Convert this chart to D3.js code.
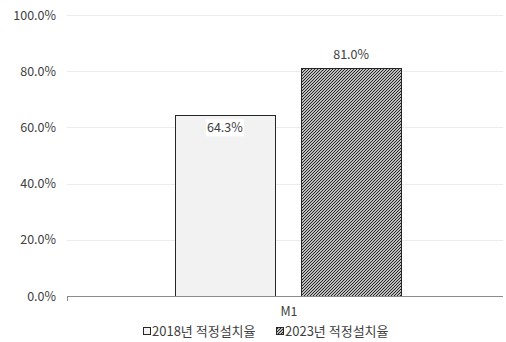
<!DOCTYPE html>
<html><head><meta charset="utf-8">
<script src="https://cdn.jsdelivr.net/npm/d3@7"></script>
<style>body{margin:0;background:#fff}text{font-family:"Noto Sans CJK KR","Noto Sans",sans-serif}</style>
</head><body><svg id="c" width="506" height="342"></svg>
<script>
const categories = ["M1"];
const seriesNames = ["2018년 적정설치율", "2023년 적정설치율"];
const values2018 = [64.3];
const values2023 = [81.0];
const yTicks = [0, 20, 40, 60, 80, 100];

const svg = d3.select("#c");
const m = {l: 67, r: 503, t: 15, b: 296};
const defs = svg.append("defs");
const pat = defs.append("pattern").attr("id","hatch").attr("patternUnits","userSpaceOnUse")
  .attr("width",3).attr("height",3);
pat.append("rect").attr("width",3).attr("height",3).attr("fill","#fff");
pat.append("path").attr("d","M-1,1 l2,-2 M0,3 l3,-3 M2,4 l2,-2").attr("stroke","#1a1a1a").attr("stroke-width",1.1);

const x0 = d3.scaleBand().domain(categories).range([m.l, m.r]);
const x1 = d3.scaleBand().domain(seriesNames).range([0, x0.bandwidth()]).paddingInner(0.206).paddingOuter(0.83);
const y = d3.scaleLinear().domain([0,100]).range([m.b, m.t]);

const txt = "#404040";
// grid
svg.append("g").selectAll("line").data(yTicks.filter(d=>d>0)).join("line")
  .attr("x1", m.l).attr("x2", m.r).attr("y1", d=>Math.round(y(d))+0.5).attr("y2", d=>Math.round(y(d))+0.5)
  .attr("stroke","#ececec");
// y labels
svg.append("g").selectAll("text").data(yTicks).join("text")
  .attr("x", 56).attr("y", d=>y(d)+4.5).attr("text-anchor","end")
  .attr("font-size",12.5).attr("fill",txt).text(d=>d.toFixed(1)+"%");

const data = categories.map((c,i)=>({c, vals:[values2018[i], values2023[i]]}));
const fills = ["#f2f2f2","url(#hatch)"];
data.forEach(d=>{
  d.vals.forEach((v,j)=>{
    const xx = x0(d.c)+x1(seriesNames[j])+3;
    svg.append("rect").attr("x", Math.round(xx)+0.5).attr("y", Math.round(y(v))+0.5)
      .attr("width", Math.round(x1.bandwidth())).attr("height", Math.round(y(0)-y(v)))
      .attr("fill", fills[j]).attr("stroke","#262626").attr("stroke-width",1);
  });
  // labels
  const xa = x0(d.c)+x1(seriesNames[0])+3+x1.bandwidth()/2;
  const ta = y(d.vals[0])+17;
  svg.append("rect").attr("x", xa-19).attr("y", ta-13).attr("width",38).attr("height",17).attr("fill","#fff");
  svg.append("text").attr("x", xa).attr("y", ta).attr("text-anchor","middle").attr("font-size",12.5).attr("fill",txt).text(d.vals[0].toFixed(1)+"%");
  const xb = x0(d.c)+x1(seriesNames[1])+3+x1.bandwidth()/2;
  svg.append("text").attr("x", xb).attr("y", y(d.vals[1])-9).attr("text-anchor","middle").attr("font-size",12.5).attr("fill",txt).text(d.vals[1].toFixed(1)+"%");
  svg.append("text").attr("x", x0(d.c)+x0.bandwidth()/2+4).attr("y", 315.5).attr("text-anchor","middle").attr("font-size",12.5).attr("fill",txt).text(d.c);
});

// axis
svg.append("line").attr("x1",m.l).attr("x2",m.r).attr("y1",m.b+0.5).attr("y2",m.b+0.5).attr("stroke","#8c8c8c");
svg.append("line").attr("x1",m.l+0.5).attr("x2",m.l+0.5).attr("y1",m.b).attr("y2",m.b+5).attr("stroke","#8c8c8c");

// legend
const leg = svg.append("g");
const legX = [143, 276];
seriesNames.forEach((s,j)=>{
  leg.append("rect").attr("x", legX[j]+0.5).attr("y", 327.5).attr("width",7).attr("height",7)
    .attr("fill", j===0?"#f2f2f2":"url(#hatch)").attr("stroke","#262626");
  leg.append("text").attr("x", legX[j]+9).attr("y", 336).attr("font-size",13).attr("fill",txt).text(s);
});
</script></body></html>
